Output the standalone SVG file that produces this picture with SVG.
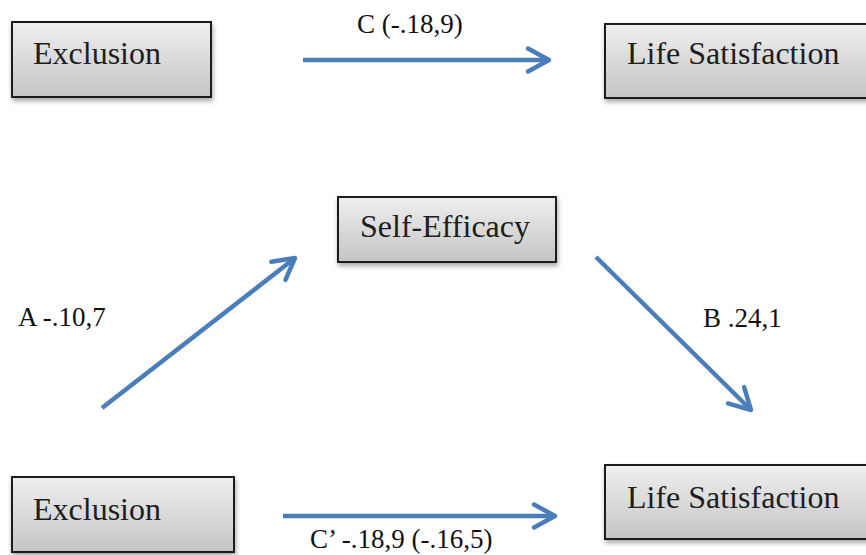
<svg xmlns="http://www.w3.org/2000/svg" width="866" height="555" viewBox="0 0 866 555">
<defs>
<linearGradient id="boxfill" x1="0" y1="0" x2="0" y2="1">
<stop offset="0" stop-color="#efefef"/>
<stop offset="1" stop-color="#c5c5c5"/>
</linearGradient>
<filter id="shadow" x="-10%" y="-20%" width="125%" height="150%">
<feDropShadow dx="1" dy="3" stdDeviation="2.5" flood-color="#000" flood-opacity="0.35"/>
</filter>
<marker id="arr" markerUnits="userSpaceOnUse" markerWidth="40" markerHeight="40" viewBox="-28 -20 40 40" refX="0" refY="0" orient="auto" overflow="visible">
<path d="M-21,-11.5 L0,0 L-21,11.5" fill="none" stroke="#4a7ebb" stroke-width="4.5" stroke-linejoin="round" stroke-linecap="round"/>
</marker>
</defs>
<style>
.box{fill:url(#boxfill);stroke:#1a1a1a;stroke-width:2;filter:url(#shadow)}
.bt{font-family:"Liberation Serif","Times New Roman",serif;font-size:32px;fill:#1e1e1e}
.lb{font-family:"Liberation Serif","Times New Roman",serif;font-size:27px;fill:#111}
.ed{stroke:#4a7ebb;stroke-width:4.5;fill:none;marker-end:url(#arr)}
</style>
<rect width="866" height="555" fill="#fff"/>
<g id="connectors">
<line class="ed" x1="303" y1="60" x2="549" y2="60"/>
<line class="ed" x1="102" y1="408" x2="295" y2="258"/>
<line class="ed" x1="596" y1="257" x2="751" y2="410"/>
<line class="ed" x1="283" y1="516" x2="555" y2="516"/>
<text class="lb" x="357" y="33">C (-.18,9)</text>
<text class="lb" x="18" y="326">A -.10,7</text>
<text class="lb" x="703" y="327">B .24,1</text>
<text class="lb" x="310" y="548">C’ -.18,9 (-.16,5)</text>
</g>
<g id="exclusion-top">
<rect class="box" x="12" y="22" width="199" height="75"/>
<text class="bt" x="33" y="64">Exclusion</text>
</g>
<g id="life-satisfaction-top">
<rect class="box" x="605" y="24" width="270" height="74"/>
<text class="bt" x="627" y="64">Life Satisfaction</text>
</g>
<g id="self-efficacy">
<rect class="box" x="338" y="197" width="218" height="65"/>
<text class="bt" x="360" y="237">Self-Efficacy</text>
</g>
<g id="exclusion-bottom">
<rect class="box" x="12" y="477" width="222" height="75"/>
<text class="bt" x="33" y="520">Exclusion</text>
</g>
<g id="life-satisfaction-bottom">
<rect class="box" x="605" y="465" width="270" height="74"/>
<text class="bt" x="627" y="508">Life Satisfaction</text>
</g>
</svg>
